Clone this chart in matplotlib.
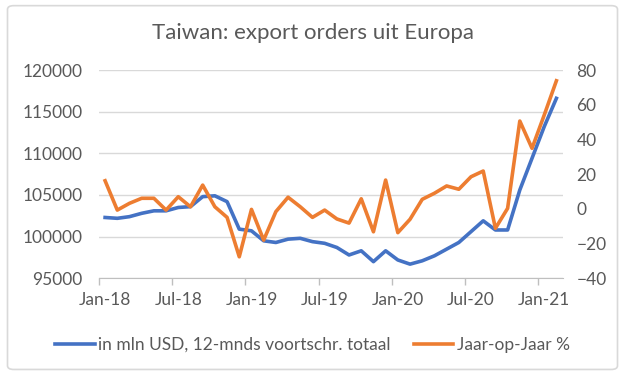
import matplotlib
matplotlib.use("Agg")
import matplotlib.pyplot as plt
from matplotlib.patches import FancyBboxPatch
import numpy as np

# maanden jan-18 t/m feb-21
months = ['Jan-18', 'Feb-18', 'Mar-18', 'Apr-18', 'May-18', 'Jun-18', 'Jul-18', 'Aug-18',
          'Sep-18', 'Oct-18', 'Nov-18', 'Dec-18', 'Jan-19', 'Feb-19', 'Mar-19', 'Apr-19',
          'May-19', 'Jun-19', 'Jul-19', 'Aug-19', 'Sep-19', 'Oct-19', 'Nov-19', 'Dec-19',
          'Jan-20', 'Feb-20', 'Mar-20', 'Apr-20', 'May-20', 'Jun-20', 'Jul-20', 'Aug-20',
          'Sep-20', 'Oct-20', 'Nov-20', 'Dec-20', 'Jan-21', 'Feb-21']

# 12-maands voortschrijdend totaal (mln USD)
totaal = [102300, 102200, 102400, 102800, 103100, 103100, 103500, 103600,
          104800, 104900, 104200, 100900, 100700, 99500, 99300, 99700,
          99800, 99400, 99200, 98700, 97800, 98300, 97000, 98300,
          97200, 96700, 97100, 97700, 98500, 99300, 100600, 101900,
          100800, 100800, 105600, 109400, 113200, 116600]

# jaar-op-jaar %
yoy = [16.2, -0.7, 3.2, 6.1, 6.1, -0.7, 7.0, 1.2,
       13.7, 1.2, -4.9, -27.6, -0.3, -18.0, -1.6, 6.7,
       1.2, -4.9, -0.7, -5.8, -8.2, 5.8, -13.2, 16.6,
       -13.7, -6.0, 5.5, 9.0, 13.2, 11.3, 18.5, 21.8,
       -11.2, 0.3, 50.6, 34.9, 54.0, 73.8]

tick_labels = ['Jan-18', 'Jul-18', 'Jan-19', 'Jul-19', 'Jan-20', 'Jul-20', 'Jan-21']

blue = '#4472C4'
orange = '#ED7D31'
txt = '#595959'
grid = '#D9D9D9'

plt.rcParams['font.family'] = ['Lato', 'DejaVu Sans']

x = np.arange(len(months))

fig = plt.figure(figsize=(6.25, 3.77), dpi=100)
fig.patch.set_facecolor('white')

# kader rond de grafiek
fig.patches.append(FancyBboxPatch((0.012, 0.02), 0.976, 0.965,
                                  boxstyle='round,pad=0,rounding_size=0.01',
                                  transform=fig.transFigure, fill=False,
                                  edgecolor=grid, linewidth=1.2))

ax1 = fig.add_axes([0.1584, 0.2618, 0.9 - 0.1584, 0.8143 - 0.2618])
ax2 = ax1.twinx()

l1, = ax1.plot(x, totaal, color=blue, lw=2.6, solid_joinstyle='round',
               label='in mln USD, 12-mnds voortschr. totaal', zorder=3)
l2, = ax2.plot(x, yoy, color=orange, lw=2.6, solid_joinstyle='round',
               label='Jaar-op-Jaar %', zorder=3)

ax1.set_xlim(-0.5, len(months) - 0.5)
ax1.set_ylim(95000, 120000)
ax1.set_yticks(np.arange(95000, 120001, 5000))
ax2.set_ylim(-40, 80)
ax2.set_yticks(np.arange(-40, 81, 20))

# tickstreepjes op de maandgrenzen, labels op de maand zelf
ax1.set_xticks(np.arange(-0.5, len(months) - 1, 6))
ax1.set_xticklabels([])
ax1.set_xticks(np.arange(0, len(months), 6), minor=True)
ax1.set_xticklabels(tick_labels, minor=True)
ax1.tick_params(axis='x', which='major', length=5, width=1, color='#BFBFBF')
ax1.tick_params(axis='x', which='minor', length=0, pad=10, labelsize=12.5, labelcolor=txt)
ax1.tick_params(axis='y', length=0, pad=12, labelsize=12.5, labelcolor=txt)
ax2.tick_params(axis='y', length=0, pad=10, labelsize=12.5, labelcolor=txt)

ax1.yaxis.grid(True, color=grid, lw=1)
ax1.set_axisbelow(True)
for ax in (ax1, ax2):
    for s in ['top', 'left', 'right']:
        ax.spines[s].set_visible(False)
    ax.spines['bottom'].set_color('#BFBFBF')
ax2.spines['bottom'].set_visible(False)

fig.text(0.5, 0.913, 'Taiwan: export orders uit Europa', ha='center', va='center',
         fontsize=16, color=txt)

fig.legend(handles=[l1, l2], loc='center', bbox_to_anchor=(0.5, 0.085), ncol=2,
           frameon=False, fontsize=12.5, handlelength=2.3, handletextpad=0.2,
           columnspacing=1.3, labelcolor=txt)

fig.savefig('out.png', dpi=100, facecolor='white')
